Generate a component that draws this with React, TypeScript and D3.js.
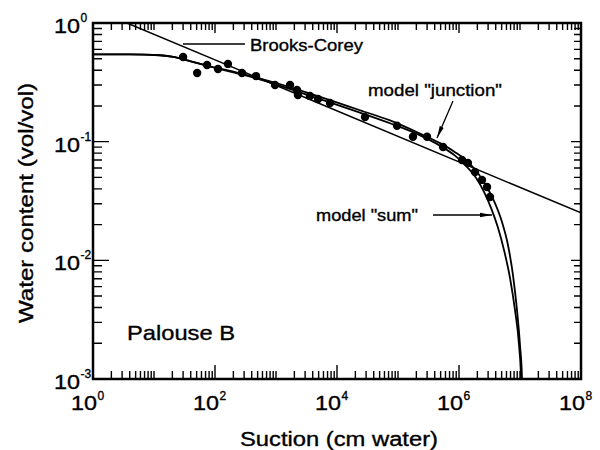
import React from "react";
import * as d3 from "d3";

const W = 600;
const H = 450;

// Measured data (suction in cm water, water content vol/vol)
const suction = [30, 51, 74, 112, 163, 277, 470, 963, 1700, 2210, 2290, 3600, 4885, 7680, 28800, 96300, 176000, 299000, 547000, 1.12e6, 1.4e6, 1.83e6, 2.38e6, 2.88e6, 3.22e6];
const waterContent = [0.517, 0.379, 0.443, 0.41, 0.452, 0.379, 0.357, 0.3, 0.3, 0.273, 0.247, 0.243, 0.229, 0.212, 0.161, 0.136, 0.11, 0.11, 0.0902, 0.0701, 0.0662, 0.0556, 0.0476, 0.0415, 0.0342];

// Model "junction"
const junctionSuction = [1, 4, 12.5, 22, 38.9, 82.8, 257, 798, 2470, 7680, 23800, 74000, 230000, 489000, 860000, 1.41e6, 2.05e6, 2.88e6, 3.89e6, 5.07e6, 6.36e6, 7.67e6, 8.93e6, 1.0e7, 1.08e7, 1.09e7];
const junctionTheta = [0.545, 0.545, 0.535, 0.515, 0.477, 0.432, 0.377, 0.323, 0.271, 0.224, 0.184, 0.151, 0.117, 0.0972, 0.0816, 0.0672, 0.0542, 0.0413, 0.0303, 0.021, 0.0134, 0.0075, 0.0038, 0.00193, 0.001, 0.0008];

// Model "sum"
const sumSuction = [1, 4, 12.5, 22, 38.9, 82.8, 257, 798, 2470, 7680, 23800, 74000, 230000, 489000, 860000, 1.3e6, 1.9e6, 2.57e6, 3.35e6, 4.36e6, 5.47e6, 6.86e6, 8.28e6, 9.64e6, 1.04e7, 1.05e7];
const sumTheta = [0.545, 0.545, 0.535, 0.515, 0.477, 0.43, 0.372, 0.316, 0.26, 0.214, 0.176, 0.143, 0.113, 0.0925, 0.0762, 0.0626, 0.0496, 0.0378, 0.0277, 0.0188, 0.0122, 0.0071, 0.0038, 0.00193, 0.001, 0.0008];

// Brooks-Corey straight line
const brooksCoreySuction = [3.6, 1e8];
const brooksCoreyTheta = [1.0, 0.0251];

const xLabelExponents = [0, 2, 4, 6, 8];
const yLabelExponents = [0, -1, -2, -3];

const FONT = "'Liberation Sans', Arial, Helvetica, sans-serif";

export default function App() {
  const xs = d3.scaleLog().domain([1, 1e8]).range([93, 581]);
  const ys = d3.scaleLog().domain([1e-3, 1]).range([379, 23]);
  const left = 93, right = 581, top = 23, bottom = 379;

  const lineGen = d3
    .line<[number, number]>()
    .x((d) => xs(d[0]))
    .y((d) => ys(d[1]))
    .curve(d3.curveMonotoneX);

  const junction = lineGen(junctionSuction.map((s, i) => [s, junctionTheta[i]] as [number, number])) || "";
  const sum = lineGen(sumSuction.map((s, i) => [s, sumTheta[i]] as [number, number])) || "";
  const bc =
    d3
      .line<[number, number]>()
      .x((d) => xs(d[0]))
      .y((d) => ys(d[1]))(brooksCoreySuction.map((s, i) => [s, brooksCoreyTheta[i]] as [number, number])) || "";

  // tick path
  let tickPath = "";
  for (let k = 0; k < 8; k++) {
    for (let m = 1; m <= 9; m++) {
      const v = m * Math.pow(10, k);
      const major = m === 1 && k % 2 === 0;
      const px = xs(v);
      tickPath += `M${px},${bottom}V${bottom - (major ? 14 : 8)}`;
      tickPath += `M${px},${top}V${top + (major ? 10 : 7)}`;
    }
  }
  for (let k = -3; k < 0; k++) {
    for (let m = 1; m <= 9; m++) {
      const v = m * Math.pow(10, k);
      const major = m === 1;
      const py = ys(v);
      tickPath += `M${left},${py}H${left + (major ? 16 : 9)}`;
      tickPath += `M${right},${py}H${right - (major ? 10 : 7)}`;
    }
  }

  const textStyle = { fontFamily: FONT, fill: "#000", stroke: "#000", strokeWidth: 0.35 } as React.CSSProperties;

  return (
    <div style={{ position: "absolute", left: 0, top: 0 }}>
      <svg width={W} height={H} viewBox={`0 0 ${W} ${H}`} style={{ display: "block", background: "#fff" }}>
        <defs>
          <clipPath id="plotclip">
            <rect x={left} y={top} width={right - left} height={bottom - top} />
          </clipPath>
          <marker id="arrowhead" viewBox="0 0 12 6" refX="12" refY="3" markerWidth="12" markerHeight="6" markerUnits="userSpaceOnUse" orient="auto">
            <path d="M0,0.8 L12,3 L0,5.2 z" fill="#000" />
          </marker>
        </defs>

        <path d={tickPath} fill="none" stroke="#000" strokeWidth={1.4} />

        {/* curves */}
        <g clipPath="url(#plotclip)" fill="none" stroke="#000">
          <path d={bc} strokeWidth={1.5} />
          <path d={junction} strokeWidth={1.8} />
          <path d={sum} strokeWidth={1.8} />
        </g>

        {/* data points */}
        <g fill="#000">
          {suction.map((s, i) => (
            <circle key={"p" + i} cx={xs(s)} cy={ys(waterContent[i])} r={4.2} />
          ))}
        </g>

        {/* frame */}
        <rect x={left} y={top} width={right - left} height={bottom - top} fill="none" stroke="#000" strokeWidth={2.5} />

        {/* tick labels */}
        <g style={textStyle}>
          {xLabelExponents.map((e) => {
            const px = xs(Math.pow(10, e));
            return (
              <g key={"xl" + e}>
                <text x={px + 4} y={410} fontSize={21} textAnchor="end" textLength={26} lengthAdjust="spacingAndGlyphs">10</text>
                <text x={px + 4.5} y={400} fontSize={12}>{e}</text>
              </g>
            );
          })}
          {yLabelExponents.map((e) => {
            const py = ys(Math.pow(10, e));
            return (
              <g key={"yl" + e}>
                <text x={80} y={py + 10} fontSize={21} textAnchor="end" textLength={26} lengthAdjust="spacingAndGlyphs">10</text>
                <text x={80.5} y={py - 1} fontSize={12}>{e === 0 ? "0" : "-" + Math.abs(e)}</text>
              </g>
            );
          })}

          {/* axis titles */}
          <text x={339} y={446} fontSize={20} textAnchor="middle" textLength={198} lengthAdjust="spacingAndGlyphs">
            Suction (cm water)
          </text>
          <text transform="translate(33,203) rotate(-90)" fontSize={20} textAnchor="middle" textLength={240} lengthAdjust="spacingAndGlyphs">
            Water content (vol/vol)
          </text>

          {/* annotations */}
          <text x={250} y={51} fontSize={17} textLength={113} lengthAdjust="spacingAndGlyphs">Brooks-Corey</text>
          <text x={368} y={96} fontSize={17} textLength={134} lengthAdjust="spacingAndGlyphs">model "junction"</text>
          <text x={316} y={221} fontSize={17} textLength={102} lengthAdjust="spacingAndGlyphs">model "sum"</text>
          <text x={127} y={340} fontSize={21} textLength={108} lengthAdjust="spacingAndGlyphs">Palouse B</text>
        </g>

        <line x1={183} y1={44} x2={245} y2={44} stroke="#000" strokeWidth={1.6} />
        <line x1={453} y1={101} x2={437} y2={138} stroke="#000" strokeWidth={1.3} markerEnd="url(#arrowhead)" />
        <line x1={433} y1={215} x2={492} y2={215} stroke="#000" strokeWidth={1.3} markerEnd="url(#arrowhead)" />
      </svg>
    </div>
  );
}
